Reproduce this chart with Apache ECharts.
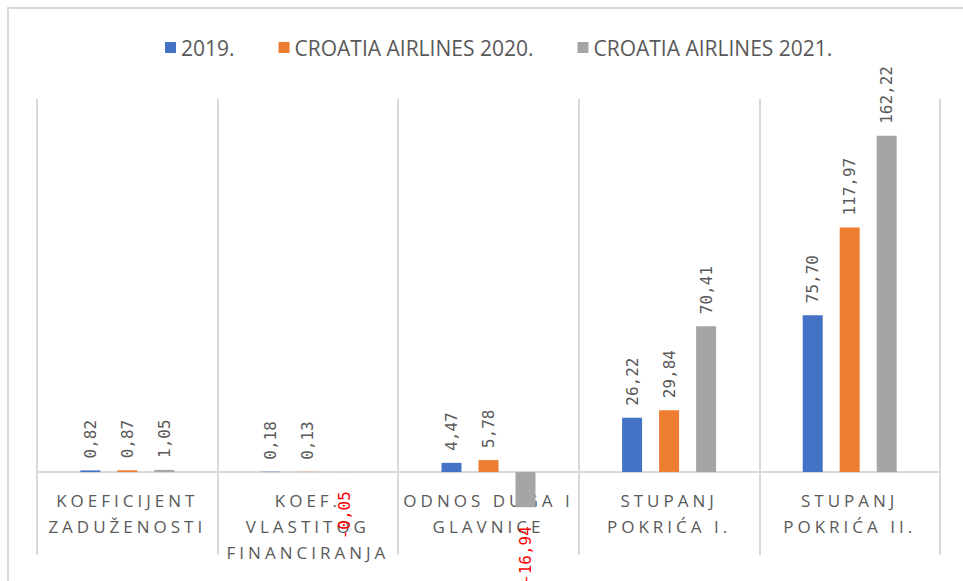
<!DOCTYPE html>
<html>
<head>
<meta charset="utf-8">
<script src="https://cdn.jsdelivr.net/npm/echarts@6/dist/echarts.min.js"></script>
<style>
    body { margin: 0; background: #fff; }
    #chart { width: 963px; height: 581px; }
    /* category labels are spaced out, like in the original */
    #chart text[fill="#5a5a5a"] { letter-spacing: 4px; }
</style>
</head>
<body>
<div id="chart"></div>
<script>
var categories = [
    'KOEFICIJENT\nZADUŽENOSTI',
    'KOEF.\nVLASTITOG\nFINANCIRANJA',
    'ODNOS DUGA I\nGLAVNICE',
    'STUPANJ\nPOKRIĆA I.',
    'STUPANJ\nPOKRIĆA II.'
];
var seriesNames = ['2019.', 'CROATIA AIRLINES 2020.', 'CROATIA AIRLINES 2021.'];
var values2019 = [0.82, 0.18, 4.47, 26.22, 75.70];
var values2020 = [0.87, 0.13, 5.78, 29.84, 117.97];
var values2021 = [1.05, -0.05, -16.94, 70.41, 162.22];
var colors = ['#4472C4', '#ED7D31', '#A5A5A5'];

function makeData(arr) {
    return arr.map(function (v) {
        if (v < 0) {
            // negative values: red label under the bar end
            return { value: v, label: { color: '#FF0000', align: 'right', distance: 19 } };
        }
        return v;
    });
}

function makeSeries(name, arr, color) {
    return {
        name: name,
        type: 'bar',
        barWidth: 20,
        barGap: '85%',
        itemStyle: { color: color },
        label: {
            show: true,
            position: 'outside',
            rotate: 90,
            align: 'left',
            verticalAlign: 'middle',
            distance: 12,
            color: '#595959',
            fontFamily: 'DejaVu Sans Mono',
            fontSize: 16,
            formatter: function (p) {
                return p.value.toFixed(2).replace('.', ',');
            }
        },
        data: makeData(arr)
    };
}

var myChart = echarts.init(document.getElementById('chart'), null, { renderer: 'svg' });

var option = {
    backgroundColor: '#fff',
    animation: false,
    graphic: [{
        type: 'polyline',
        shape: { points: [[8, 581], [8, 8], [963, 8]] },
        style: { stroke: '#D9D9D9', lineWidth: 2, fill: null }
    }],
    legend: {
        left: 160,
        top: 32,
        itemWidth: 11,
        itemHeight: 11,
        itemGap: 44,
        icon: 'rect',
        textStyle: { color: '#595959', fontFamily: 'Open Sans', fontSize: 21 },
        data: seriesNames
    },
    grid: { left: 37, right: 23, top: 99, bottom: 26, containLabel: false, outerBoundsMode: 'none' },
    xAxis: {
        type: 'category',
        data: categories,
        axisTick: { show: false },
        axisLine: { lineStyle: { color: '#D9D9D9', width: 2 } },
        splitLine: { show: true, interval: 0, lineStyle: { color: '#D9D9D9', width: 2 } },
        axisLabel: {
            interval: 0,
            // labels sit under the zero line, not under the plot bottom
            margin: -68,
            color: '#5a5a5a',
            fontFamily: 'Open Sans',
            fontSize: 17,
            lineHeight: 26
        }
    },
    yAxis: {
        type: 'value',
        min: -40,
        max: 180,
        interval: 20,
        show: false
    },
    series: [
        makeSeries(seriesNames[0], values2019, colors[0]),
        makeSeries(seriesNames[1], values2020, colors[1]),
        makeSeries(seriesNames[2], values2021, colors[2])
    ]
};

myChart.setOption(option);
</script>
</body>
</html>
